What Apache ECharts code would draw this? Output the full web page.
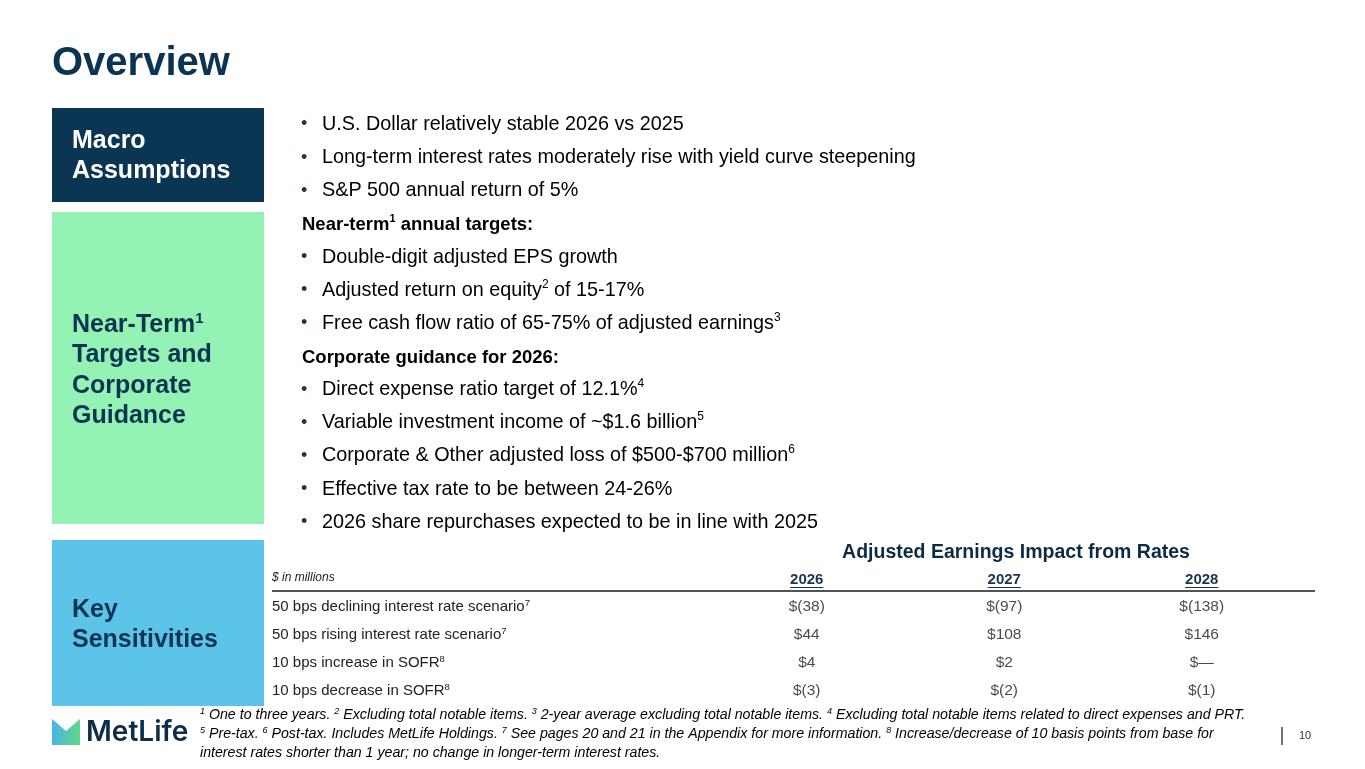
<!DOCTYPE html>
<html>
<head>
<meta charset="utf-8">
<script src="https://cdn.jsdelivr.net/npm/echarts@6/dist/echarts.min.js"></script>
<style>
html,body{margin:0;padding:0;background:#fff;}
#main{width:1365px;height:769px;}
</style>
</head>
<body>
<div id="main"></div>
<script>
// 数据
var years = ['2026', '2027', '2028'];
var rowLabels = [
  '50 bps declining interest rate scenario^7',
  '50 bps rising interest rate scenario^7',
  '10 bps increase in SOFR^8',
  '10 bps decrease in SOFR^8'
];
var impact2026 = [-38, 44, 4, -3];
var impact2027 = [-97, 108, 2, -2];
var impact2028 = [-138, 146, 0, -1];

var sideLabels = [
  ['Macro', 'Assumptions'],
  ['Near-Term^1', 'Targets and', 'Corporate', 'Guidance'],
  ['Key', 'Sensitivities']
];
var macroBullets = [
  'U.S. Dollar relatively stable 2026 vs 2025',
  'Long-term interest rates moderately rise with yield curve steepening',
  'S&P 500 annual return of 5%'
];
var nearTermHeading = 'Near-term^1 annual targets:';
var nearTermBullets = [
  'Double-digit adjusted EPS growth',
  'Adjusted return on equity^2 of 15-17%',
  'Free cash flow ratio of 65-75% of adjusted earnings^3'
];
var guidanceHeading = 'Corporate guidance for 2026:';
var guidanceBullets = [
  'Direct expense ratio target of 12.1%^4',
  'Variable investment income of ~$1.6 billion^5',
  'Corporate & Other adjusted loss of $500-$700 million^6',
  'Effective tax rate to be between 24-26%',
  '2026 share repurchases expected to be in line with 2025'
];
var footnotes = [
  '^1 One to three years. ^2 Excluding total notable items. ^3 2-year average excluding total notable items. ^4 Excluding total notable items related to direct expenses and PRT.',
  '^5 Pre-tax. ^6 Post-tax. Includes MetLife Holdings. ^7 See pages 20 and 21 in the Appendix for more information. ^8 Increase/decrease of 10 basis points from base for',
  'interest rates shorter than 1 year; no change in longer-term interest rates.'
];

var FONT = 'Liberation Sans, Arial, sans-serif';
var NAVY = '#0b3352';
var TEXT = '#1c3349';

// "^n" -> 上标
function rich(str, t, s) {
  var parts = str.split(/\^(\d)/);
  var out = '';
  for (var i = 0; i < parts.length; i++) {
    if (!parts[i]) continue;
    out += '{' + (i % 2 ? s : t) + '|' + parts[i] + '}';
  }
  return out;
}
function fmt(v) {
  if (v < 0) return '$(' + (-v) + ')';
  if (v === 0) return '$\u2014';
  return '$' + v;
}

var myChart = echarts.init(document.getElementById('main'));
var graphic = [];

// 标题
graphic.push({type: 'text', style: {text: 'Overview', x: 52, y: 64, verticalAlign: 'middle',
  fontFamily: FONT, fontWeight: 'bold', fontSize: 40, fill: NAVY}});

// 左侧色块
var boxes = [
  {y: 108, h: 94, fill: '#0a3553', color: '#ffffff', lines: [141, 171]},
  {y: 212, h: 312, fill: '#94f3b4', color: NAVY, lines: [325, 355.5, 386, 416.5]},
  {y: 540, h: 166, fill: '#5bc4e8', color: NAVY, lines: [610, 640]}
];
boxes.forEach(function (b, i) {
  graphic.push({type: 'rect', shape: {x: 52, y: b.y, width: 212, height: b.h}, style: {fill: b.fill}});
  sideLabels[i].forEach(function (l, j) {
    graphic.push({type: 'text', style: {
      text: rich(l, 't', 's'), x: 72, y: b.lines[j], verticalAlign: 'middle',
      rich: {
        t: {fontFamily: FONT, fontWeight: 'bold', fontSize: 25, fill: b.color, color: b.color, lineHeight: 28},
        s: {fontFamily: FONT, fontWeight: 'bold', fontSize: 15, fill: b.color, color: b.color, lineHeight: 15, verticalAlign: 'top'}
      }
    }});
  });
});

// 要点
var bulletRich = {
  t: {fontFamily: FONT, fontSize: 19.8, color: TEXT, lineHeight: 24},
  s: {fontFamily: FONT, fontSize: 12, color: TEXT, lineHeight: 12, verticalAlign: 'top'}
};
var headRich = {
  t: {fontFamily: FONT, fontSize: 18.5, fontWeight: 'bold', color: '#0d2b45', lineHeight: 22},
  s: {fontFamily: FONT, fontSize: 11, fontWeight: 'bold', color: '#0d2b45', lineHeight: 11, verticalAlign: 'top'}
};
var lines = [];
macroBullets.forEach(function (b) { lines.push({txt: b, bullet: true}); });
lines.push({txt: nearTermHeading, bullet: false});
nearTermBullets.forEach(function (b) { lines.push({txt: b, bullet: true}); });
lines.push({txt: guidanceHeading, bullet: false});
guidanceBullets.forEach(function (b) { lines.push({txt: b, bullet: true}); });
lines.forEach(function (l, i) {
  var y = 124.5 + i * 33.15 + (l.bullet ? 0 : 1);
  if (l.bullet) {
    graphic.push({type: 'text', style: {text: '\u2022', x: 301, y: y, verticalAlign: 'middle',
      fontFamily: FONT, fontSize: 18, fill: TEXT}});
  }
  graphic.push({type: 'text', style: {text: rich(l.txt, 't', 's'), x: l.bullet ? 322 : 302, y: y,
    verticalAlign: 'middle', rich: l.bullet ? bulletRich : headRich}});
});

// 表格标题
graphic.push({type: 'text', style: {text: 'Adjusted Earnings Impact from Rates', x: 1016, y: 553,
  align: 'center', verticalAlign: 'middle', fontFamily: FONT, fontWeight: 'bold', fontSize: 19.5, fill: '#0d2b45'}});
graphic.push({type: 'text', style: {text: '$ in millions', x: 272, y: 578, verticalAlign: 'middle',
  fontFamily: FONT, fontStyle: 'italic', fontSize: 12, fill: '#222'}});
graphic.push({type: 'line', shape: {x1: 272, y1: 591, x2: 1315, y2: 591}, style: {stroke: '#1a1a1a', lineWidth: 1.5}});

// 脚注
var footRich = {
  t: {fontFamily: FONT, fontStyle: 'italic', fontSize: 14.2, color: '#222', lineHeight: 17},
  s: {fontFamily: FONT, fontStyle: 'italic', fontSize: 9, color: '#222', lineHeight: 9, verticalAlign: 'top'}
};
footnotes.forEach(function (f, i) {
  graphic.push({type: 'text', style: {text: rich(f, 't', 's'), x: 200, y: 715 + i * 19,
    verticalAlign: 'middle', rich: footRich}});
});

// logo
graphic.push({type: 'polygon', shape: {points: [[52, 719], [66, 731], [80, 719], [80, 745], [52, 745]]},
  style: {fill: new echarts.graphic.LinearGradient(0, 0, 1, 0, [
    {offset: 0, color: '#48b4ea'}, {offset: 0.5, color: '#56c6b4'}, {offset: 1, color: '#62d786'}])}});
graphic.push({type: 'text', style: {text: 'MetLife', x: 86, y: 733, verticalAlign: 'middle',
  fontFamily: 'Inter, sans-serif', fontWeight: 600, fontSize: 28, fill: '#0d2d4a'}});

// 页码
graphic.push({type: 'line', shape: {x1: 1282, y1: 727, x2: 1282, y2: 745}, style: {stroke: '#444', lineWidth: 1.5}});
graphic.push({type: 'text', style: {text: '10', x: 1299, y: 736, verticalAlign: 'middle',
  fontFamily: FONT, fontSize: 11, fill: '#333'}});

var option = {
  animation: false,
  backgroundColor: '#ffffff',
  grid: {left: 708, width: 592.5, top: 593, height: 112, containLabel: false},
  xAxis: {
    type: 'category', position: 'top', data: years,
    axisLine: {show: false}, axisTick: {show: false}, splitLine: {show: false},
    axisLabel: {margin: 5.5, fontFamily: FONT, fontWeight: 'bold', fontSize: 15, color: '#1b3550'}
  },
  yAxis: {
    type: 'category', inverse: true, data: rowLabels,
    axisLine: {show: false}, axisTick: {show: false}, splitLine: {show: false},
    axisLabel: {
      align: 'left', margin: 436,
      formatter: function (v) { return rich(v, 't', 's'); },
      rich: {
        t: {fontFamily: FONT, fontSize: 15, color: '#222', lineHeight: 18},
        s: {fontFamily: FONT, fontSize: 9.5, color: '#222', lineHeight: 10, verticalAlign: 'top'}
      }
    }
  },
  series: [impact2026, impact2027, impact2028].map(function (arr, c) {
    return {
      type: 'scatter', name: years[c], symbolSize: 1, silent: true,
      itemStyle: {color: 'rgba(0,0,0,0)'},
      data: arr.map(function (v, r) { return [c, r, v]; }),
      label: {show: true, position: 'inside', fontFamily: FONT, fontSize: 15.5, color: '#1a1a1a',
        formatter: function (p) { return fmt(p.value[2]); }}
    };
  }),
  graphic: graphic
};
myChart.setOption(option);

// 年份下划线
var cv = document.createElement('canvas').getContext('2d');
cv.font = 'bold 15px ' + FONT;
var under = years.map(function (y, i) {
  var px = myChart.convertToPixel({xAxisIndex: 0}, i);
  var w = cv.measureText(y).width;
  return {type: 'line', shape: {x1: px - w / 2, y1: 587.5, x2: px + w / 2, y2: 587.5}, style: {stroke: '#1b3550', lineWidth: 1.1}};
});
myChart.setOption({graphic: graphic.concat(under)});
</script>
</body>
</html>
